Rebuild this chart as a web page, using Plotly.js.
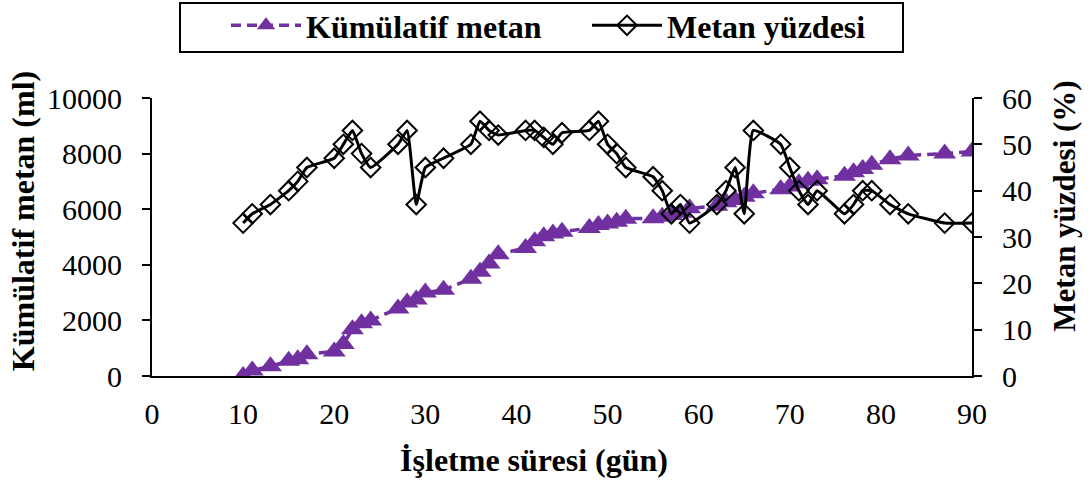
<!DOCTYPE html>
<html>
<head>
<meta charset="utf-8">
<script src="https://cdn.plot.ly/plotly-3.0.1.min.js"></script>
<style>
  html, body { margin: 0; padding: 0; background: #fff; }
  #chart { width: 1092px; height: 496px; }
</style>
</head>
<body>
<div id="chart"></div>
<script>
// Operating time (days)
const daysCum = [10, 11, 13, 15, 16, 17, 20, 21, 22, 23, 24, 27, 28, 29, 30, 32, 35, 36, 37, 38,
  41, 42, 43, 44, 45, 48, 49, 50, 51, 52, 55, 56, 57, 58, 59, 62, 63, 64, 65, 66,
  69, 70, 71, 72, 73, 76, 77, 78, 79, 81, 83, 87, 90];
// Cumulative methane (ml)
const cumulativeMethane = [0, 200, 350, 550, 600, 780, 880, 1150, 1680, 1900, 2000, 2430, 2640, 2750, 3000, 3100, 3500, 3750, 4050, 4380,
  4600, 4850, 5030, 5130, 5190, 5320, 5430, 5490, 5550, 5660, 5670, 5730, 5790, 5870, 6030, 6120, 6250, 6330, 6450, 6570,
  6720, 6820, 6930, 7020, 7080, 7200, 7330, 7450, 7600, 7800, 7930, 8000, 8080];
// Methane percentage (%)
const daysPct = daysCum;
const methanePercent = [33, 35, 37, 40, 42, 45, 47, 50, 53, 48, 45, 50, 53, 37, 45, 47, 50, 55, 53, 52,
  53, 53, 51.5, 50, 52.5, 53, 55, 50, 48, 45, 43, 40, 35, 37, 33, 37, 40, 45, 35, 53,
  50, 45, 40, 37, 40, 35, 37, 40, 40, 37, 35, 33, 33];

const seriesNames = ["Kümülatif metan", "Metan yüzdesi"];
const xTitle = "İşletme süresi (gün)";
const yTitle = "Kümülatif metan (ml)";
const y2Title = "Metan yüzdesi (%)";

const FONT = "Liberation Serif, Times New Roman, serif";
const NB = "\u00A0";

const traces = [
  {
    x: daysCum, y: cumulativeMethane, name: seriesNames[0], yaxis: "y",
    type: "scatter", mode: "lines+markers",
    line: { color: "#7030A0", width: 3.5, dash: "10px,6px" },
    marker: { symbol: "triangle-up", size: 20, color: "#7030A0" }
  },
  {
    x: daysPct, y: methanePercent, name: seriesNames[1], yaxis: "y2",
    type: "scatter", mode: "lines+markers",
    line: { color: "#000000", width: 3, shape: "spline", smoothing: 0.4 },
    marker: { symbol: "diamond-open", size: 15, color: "#000000", line: { width: 2, color: "#000000" } }
  }
];

const layout = {
  width: 1092, height: 496,
  margin: { l: 152, r: 120, t: 98, b: 120, autoexpand: false },
  paper_bgcolor: "#ffffff", plot_bgcolor: "#ffffff",
  font: { family: FONT, size: 30, color: "#000" },
  showlegend: true,
  legend: {
    orientation: "h", x: (226 - 152) / 820, y: (376 + 2) / 278, xanchor: "left", yanchor: "top",
    borderwidth: 0, bgcolor: "rgba(0,0,0,0)",
    font: { family: FONT, size: 32, color: "#000", weight: "bold" },
    itemwidth: 70, entrywidth: 276, entrywidthmode: "pixels"
  },
  shapes: [
    { type: "rect", xref: "paper", yref: "paper",
      x0: (180 - 152) / 820, x1: (903 - 152) / 820,
      y0: (376 - 52) / 278, y1: (376 - 3) / 278,
      line: { color: "#000", width: 2 }, fillcolor: "rgba(0,0,0,0)" }
  ],
  xaxis: {
    range: [0, 90], dtick: 10, tick0: 0, showgrid: false, zeroline: false,
    showline: true, linecolor: "#000", linewidth: 2,
    ticks: "", ticklabelstandoff: 10, tickfont: { family: FONT, size: 30 },
    title: { text: "<b>" + xTitle + NB.repeat(7) + "</b>", font: { family: FONT, size: 32 }, standoff: 20 }
  },
  yaxis: {
    range: [0, 10000], dtick: 2000, tickformat: "d", showgrid: false, zeroline: false,
    showline: true, linecolor: "#000", linewidth: 2,
    ticks: "outside", ticklen: 8, tickwidth: 2, tickcolor: "#000",
    ticklabelstandoff: 14,
    tickfont: { family: FONT, size: 30 },
    title: { text: "<b>" + NB.repeat(4) + yTitle + "</b>", font: { family: FONT, size: 32 }, standoff: 3 }
  },
  yaxis2: {
    range: [0, 60], dtick: 10, overlaying: "y", side: "right", showgrid: false, zeroline: false,
    showline: true, linecolor: "#000", linewidth: 2,
    ticks: "outside", ticklen: 8, tickwidth: 2, tickcolor: "#000",
    ticklabelstandoff: 14,
    tickfont: { family: FONT, size: 30 },
    title: { text: "<b>" + NB.repeat(8) + y2Title + "</b>", font: { family: FONT, size: 31 }, standoff: 22 }
  }
};

Plotly.newPlot("chart", traces, layout, { displayModeBar: false, staticPlot: true });
</script>
</body>
</html>
